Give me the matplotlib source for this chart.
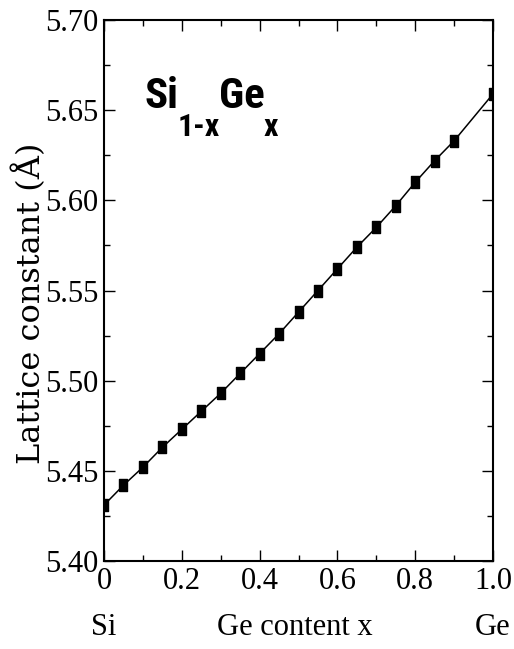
import matplotlib
matplotlib.use("Agg")
import matplotlib.pyplot as plt
from matplotlib import font_manager
from matplotlib.font_manager import FontProperties
from matplotlib.ticker import MultipleLocator, FormatStrFormatter

# Data
ge_content = [0.0, 0.05, 0.10, 0.15, 0.20, 0.25, 0.30, 0.35, 0.40, 0.45,
              0.50, 0.55, 0.60, 0.65, 0.70, 0.75, 0.80, 0.85, 0.90, 1.00]
lattice_const = [5.431, 5.442, 5.452, 5.463, 5.473, 5.483, 5.493, 5.504, 5.515, 5.526,
                 5.538, 5.550, 5.562, 5.574, 5.585, 5.597, 5.610, 5.622, 5.633, 5.659]
x_ticks = [0, 0.2, 0.4, 0.6, 0.8, 1.0]
x_tick_labels = ["0", "0.2", "0.4", "0.6", "0.8", "1.0"]
y_ticks = [5.40, 5.45, 5.50, 5.55, 5.60, 5.65, 5.70]

# pick a condensed bold sans if one is installed
def pick_condensed_bold():
    prefs = ['Liberation Sans Narrow', 'Roboto Condensed', 'Open Sans Condensed',
             'DejaVu Sans']
    for name in prefs:
        for f in font_manager.fontManager.ttflist:
            if f.name == name and f.weight in (700, 'bold') and (
                    name != 'DejaVu Sans' or f.stretch == 'condensed'):
                return FontProperties(fname=f.fname), True
    return FontProperties(family='Liberation Sans', weight='bold'), False

title_fp, is_narrow = pick_condensed_bold()
serif = 'Liberation Serif'

fig = plt.figure(figsize=(5.14, 6.49), dpi=100)
ax = fig.add_axes([104/514, 1-561/649, (493-104)/514, (561-20)/649])

rect_marker = [(-0.38, -0.5), (0.38, -0.5), (0.38, 0.5), (-0.38, 0.5), (-0.38, -0.5)]
ax.plot(ge_content, lattice_const, color='black', lw=1.1,
        marker=rect_marker, markersize=8, markerfacecolor='black', markeredgecolor='black')

ax.set_xlim(0, 1.0)
ax.set_ylim(5.40, 5.70)
ax.set_xticks(x_ticks)
ax.set_xticklabels(x_tick_labels)
ax.set_yticks(y_ticks)
ax.yaxis.set_major_formatter(FormatStrFormatter('%.2f'))
ax.xaxis.set_minor_locator(MultipleLocator(0.1))
ax.yaxis.set_minor_locator(MultipleLocator(0.025))

ax.tick_params(which='both', direction='in', top=True, right=True, width=1.0)
ax.tick_params(which='major', length=8, pad=4)
ax.tick_params(which='minor', length=4)
for lab in ax.get_xticklabels() + ax.get_yticklabels():
    lab.set_family(serif)
    lab.set_fontsize(22)
for s in ax.spines.values():
    s.set_linewidth(1.5)

ax.set_ylabel("Lattice constant (Å)", family='DejaVu Serif', fontsize=23)
ax.yaxis.set_label_coords((47 - 104) / 389, (561 - 303) / 541)

# Lower labels
ybot = -(635 - 561) / 541
ax.text(0.0, ybot, "Si", transform=ax.transAxes, ha='center', va='baseline',
        family=serif, fontsize=22)
ax.text(0.49, ybot, "Ge content x", transform=ax.transAxes, ha='center', va='baseline',
        family=serif, fontsize=22)
ax.text(1.0, ybot, "Ge", transform=ax.transAxes, ha='center', va='baseline',
        family=serif, fontsize=22)

# Title Si_{1-x}Ge_x built from pieces
if is_narrow:
    big, small, gap = 31, 23, -1.0
else:
    big, small, gap = 26, 19, -1.0
parts = [("Si", big, 0), ("1-x", small, -28), ("Ge", big, 0), ("x", small, -28)]
fig.canvas.draw()
renderer = fig.canvas.get_renderer()
x_px = 145.0
base_px = 649 - 108.0
for txt, fs, dy in parts:
    fp = title_fp.copy()
    fp.set_size(fs)
    if not is_narrow:
        fp.set_weight('bold')
    t = fig.text(x_px / 514, (base_px + dy) / 649, txt, ha='left', va='baseline',
                 fontproperties=fp)
    bb = t.get_window_extent(renderer=renderer)
    x_px = bb.x1 + gap

fig.savefig("out.png", dpi=100)
